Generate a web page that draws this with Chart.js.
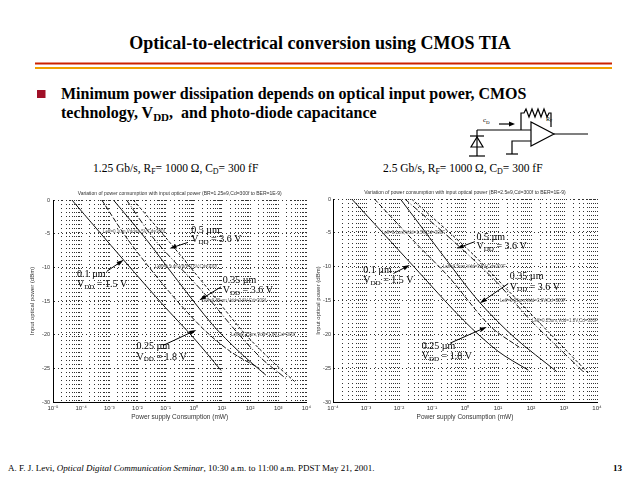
<!DOCTYPE html>
<html>
<head>
<meta charset="utf-8">
<script src="https://cdn.jsdelivr.net/npm/chart.js@4.4.0/dist/chart.umd.min.js"></script>
<style>
  body { margin: 0; width: 640px; height: 480px; overflow: hidden; position: relative; background: #fff;
         font-family: "Liberation Serif", "Times New Roman", serif; color: #000; }
  .abs { position: absolute; white-space: nowrap; }
  #title { left: 0; width: 640px; top: 34px; text-align: center; font-weight: bold; font-size: 18px; line-height: 18px; }
  #bullet { left: 61px; top: 84px; font-weight: bold; font-size: 16px; line-height: 19px; }
  #bullet sub { font-size: 11px; vertical-align: -3px; line-height: 0; }
  .sub { font-size: 11.5px; top: 162px; }
  .sub sub { font-size: 8px; vertical-align: -2px; line-height: 0; }
  #footer { left: 8px; top: 463px; font-size: 9px; }
  #page { right: 18px; top: 463px; font-size: 9px; font-weight: bold; }
  canvas { position: absolute; }
  svg { position: absolute; left: 0; top: 0; }
</style>
</head>
<body>
<svg width="640" height="480">
  <line x1="35" y1="63.5" x2="612" y2="63.5" stroke="#cc2200" stroke-width="2"/>
  <line x1="35" y1="68" x2="612" y2="68" stroke="#f0a000" stroke-width="2"/>
  <rect x="37" y="90" width="8.5" height="8" fill="#a01028"/>
  <!-- TIA sketch -->
  <g stroke="#000" stroke-width="1.2" fill="none">
    <line x1="477" y1="130" x2="477" y2="156"/>
    <line x1="470" y1="136" x2="484" y2="136"/>
    <polygon points="477,137 471,147 483,147"/>
    <line x1="469" y1="156" x2="485" y2="156"/>
    <polyline points="477,130 531,130"/>
    <polyline points="521,130 521,113 524,113 526,109 529,117 532,109 535,117 538,109 541,117 544,109 547,117 549,113 551,113 551,127"/>
    <polygon points="531,122 531,146 554,134"/>
    <line x1="554" y1="134" x2="588" y2="134"/>
    <polyline points="531,141 512,141 512,154"/>
    <line x1="506" y1="154" x2="518" y2="154"/>
    <line x1="499" y1="124" x2="510" y2="124"/>
  </g>
  <polygon points="515,124 509,121.5 509,126.5" fill="#000"/>
  <text x="483" y="122" font-size="7" font-family="Liberation Serif">c<tspan font-size="5" dy="1.5">D</tspan></text>
  <text x="546" y="121" font-size="6" font-family="Liberation Serif">R<tspan font-size="4" dy="1">F</tspan></text>
</svg>

<div id="title" class="abs">Optical-to-electrical conversion using CMOS TIA</div>
<div id="bullet" class="abs">Minimum power dissipation depends on optical input power, CMOS<br>technology, V<sub>DD</sub>,&nbsp; and photo-diode capacitance</div>
<div class="abs sub" style="left:93px">1.25 Gb/s, R<sub>F</sub>= 1000 &Omega;, C<sub>D</sub>= 300 fF</div>
<div class="abs sub" style="left:383px">2.5 Gb/s, R<sub>F</sub>= 1000 &Omega;, C<sub>D</sub>= 300 fF</div>
<div id="footer" class="abs">A. F. J. Levi, <i>Optical Digital Communication Seminar</i>, 10:30 a.m. to 11:00 a.m. PDST May 21, 2001.</div>
<div id="page" class="abs">13</div>

<canvas id="leftChart" width="285" height="235" style="left:29px;top:186px"></canvas>
<canvas id="rightChart" width="290" height="235" style="left:315px;top:186px"></canvas>

<script>
// ---- axis ticks ----
var leftDecades = [-5, -4, -3, -2, -1, 0, 1, 2, 3, 4];
var rightDecades = [-4, -3, -2, -1, 0, 1, 2, 3, 4];
var opticalTicks = [0, -5, -10, -15, -20, -25, -30];

// ---- 1.25 Gb/s : power supply consumption (mW) vs input optical power (dBm) ----
var left01Power = [4.7e-5, 3.2e-3, 0.1, 1, 9.3];
var left01Optical = [0, -8.9, -16, -20.5, -25.3];
var left025Power = [5.4e-4, 4.6e-3, 0.1, 2.0, 20, 214];
var left025Optical = [0, -5.9, -13, -19, -22.5, -25];
var leftMidPower = [1.4e-3, 0.021, 0.27, 4.6, 40, 363];
var leftMidOptical = [0, -5.9, -12, -18.5, -22.5, -26];
var left035Power = [4.1e-3, 0.041, 2.4, 32, 250, 1860];
var left035Optical = [0, -5.9, -13.9, -19.5, -23.5, -26.5];
var left05Power = [7.1e-3, 0.117, 4.6, 63, 630, 4170];
var left05Optical = [0, -5.9, -14, -19.8, -24, -27.1];

// ---- 2.5 Gb/s ----
var right01Power = [3.7e-4, 0.027, 0.89, 10, 83];
var right01Optical = [0, -9.9, -17.9, -22.5, -25.3];
var right025Power = [1.8e-3, 0.032, 0.32, 5.8, 47];
var right025Optical = [0, -6.5, -11.5, -18.8, -22];
var right035Power = [0.011, 0.16, 2.8, 32, 600];
var right035Optical = [0, -7.5, -15.3, -20.5, -25.5];
var right05Power = [0.015, 0.63, 10, 100, 3800];
var right05Optical = [0, -6.9, -12.5, -18, -25.5];
var rightMidPower = [0.024, 1.26, 20, 250, 5600];
var rightMidOptical = [0, -7.5, -13.5, -19, -25.8];

var lineDashes = [[], [5, 2], [], [6, 2, 1, 2], [3, 2]];

function zip(xs, ys) {
    var pts = [];
    for (let i = 0; i < xs.length; i++) pts.push({x: xs[i], y: ys[i]});
    return pts;
}

var supDigits = {'-': '\u207B', '0': '\u2070', '1': '\u00B9', '2': '\u00B2', '3': '\u00B3', '4': '\u2074', '5': '\u2075', '6': '\u2076', '7': '\u2077', '8': '\u2078', '9': '\u2079'};
function powLabel(k) {
    return '10' + String(k).split('').map(c => supDigits[c]).join('');
}

function logTicks(decades) {
    var ticks = [];
    decades.forEach((k, i) => {
        ticks.push({value: Math.pow(10, k), lab: powLabel(k)});
        if (i < decades.length - 1) {
            for (let n = 2; n <= 9; n++) ticks.push({value: n * Math.pow(10, k), lab: ''});
        }
    });
    return ticks;
}

function drawRich(ctx, segs, x, y) {
    var cx = x;
    segs.forEach(s => {
        ctx.font = s[1] ? '7px "Liberation Serif"' : '10px "Liberation Serif"';
        ctx.fillText(s[0], cx, y + (s[1] ? 2.5 : 0));
        cx += ctx.measureText(s[0]).width;
    });
}

var notesPlugin = {
    id: 'notes',
    afterDatasetsDraw(chart, args, opts) {
        const {ctx, chartArea} = chart;
        const xs = chart.scales.x, ys = chart.scales.y;
        ctx.save();
        ctx.fillStyle = '#333';
        ctx.font = '5px "Liberation Sans"';
        ctx.textAlign = 'center';
        ctx.textBaseline = 'middle';
        ctx.fillText(opts.title, (chartArea.left + chartArea.right) / 2, chartArea.top - 6);
        ctx.textAlign = 'left';
        ctx.fillStyle = '#555';
        ctx.font = '4.5px "Liberation Sans"';
        opts.tags.forEach(t => ctx.fillText(t.text, xs.getPixelForValue(t.x), ys.getPixelForValue(t.y)));

        ctx.fillStyle = '#000';
        ctx.strokeStyle = '#000';
        ctx.lineWidth = 1;
        opts.callouts.forEach(c => {
            const tx = xs.getPixelForValue(c.x);
            drawRich(ctx, [[c.size + ' \u00B5m', 0]], tx, ys.getPixelForValue(c.y1));
            drawRich(ctx, [['V', 0], ['DD', 1], [' = ' + c.vdd + ' V', 0]], tx, ys.getPixelForValue(c.y2));
            const x1 = xs.getPixelForValue(c.from[0]), y1 = ys.getPixelForValue(c.from[1]);
            const x2 = xs.getPixelForValue(c.to[0]), y2 = ys.getPixelForValue(c.to[1]);
            const a = Math.atan2(y2 - y1, x2 - x1);
            ctx.beginPath();
            ctx.moveTo(x1, y1);
            ctx.lineTo(x2 - 5 * Math.cos(a), y2 - 5 * Math.sin(a));
            ctx.stroke();
            ctx.beginPath();
            ctx.moveTo(x2, y2);
            ctx.lineTo(x2 - 7 * Math.cos(a) + 2.2 * Math.sin(a), y2 - 7 * Math.sin(a) - 2.2 * Math.cos(a));
            ctx.lineTo(x2 - 7 * Math.cos(a) - 2.2 * Math.sin(a), y2 - 7 * Math.sin(a) + 2.2 * Math.cos(a));
            ctx.closePath();
            ctx.fill();
        });
        ctx.restore();
    }
};

function createConfig(series, decades, yWidth, yPad, padding, notes) {
    var ticks = logTicks(decades);
    return {
        type: 'scatter',
        data: {
            datasets: series.map((s, i) => ({
                label: s[0],
                data: zip(s[1], s[2]),
                showLine: true,
                borderColor: '#111',
                borderWidth: 1,
                borderDash: lineDashes[i],
                pointRadius: 0,
                tension: 0.3
            }))
        },
        options: {
            responsive: false,
            animation: false,
            layout: {padding: padding},
            plugins: {legend: {display: false}, tooltip: {enabled: false}, notes: notes},
            scales: {
                x: {
                    type: 'logarithmic',
                    min: Math.pow(10, decades[0]),
                    max: Math.pow(10, decades[decades.length - 1]),
                    afterBuildTicks: (scale) => { scale.ticks = ticks.slice(); },
                    afterFit: (scale) => { scale.height = 19; },
                    grid: {color: '#333', lineWidth: 1, drawTicks: false},
                    border: {display: true, color: '#000', width: 1, dash: [1, 3]},
                    ticks: {
                        autoSkip: false, maxRotation: 0, padding: 3, color: '#333',
                        font: {family: 'Liberation Sans', size: 6},
                        callback: (v, i, t) => t[i].lab
                    },
                    title: {display: true, text: 'Power supply Consumption (mW)', color: '#333', padding: 0,
                            font: {family: 'Liberation Sans', size: 6.5}}
                },
                y: {
                    min: -30, max: 0,
                    afterBuildTicks: (scale) => { scale.ticks = opticalTicks.map(v => ({value: v})); },
                    afterFit: (scale) => { scale.width = yWidth; },
                    grid: {color: '#333', lineWidth: 1, drawTicks: false},
                    border: {display: true, color: '#000', width: 1, dash: [1, 3]},
                    ticks: {padding: yPad, color: '#333', font: {family: 'Liberation Sans', size: 5.5}},
                    title: {display: true, text: 'Input optical power (dBm)', color: '#333', padding: 0,
                            font: {family: 'Liberation Sans', size: 6}}
                }
            }
        },
        plugins: [notesPlugin]
    };
}

var leftSeries = [
    ['Leff=0.1um', left01Power, left01Optical],
    ['Leff=0.25um', left025Power, left025Optical],
    ['Leff=0.25um b', leftMidPower, leftMidOptical],
    ['Leff=0.35um', left035Power, left035Optical],
    ['Leff=0.5um', left05Power, left05Optical]
];
var rightSeries = [
    ['Leff=0.1um', right01Power, right01Optical],
    ['Leff=0.25um', right025Power, right025Optical],
    ['Leff=0.35um', right035Power, right035Optical],
    ['Leff=0.5um', right05Power, right05Optical],
    ['Leff=0.5um b', rightMidPower, rightMidOptical]
];

var leftNotes = {
    title: 'Variation of power consumption with input optical power (BR=1.25e9,Cd=300f to BER=1E-9)',
    tags: [
        {text: 'Leff=0.1um,Vdd=1.5V,Cd=300f', x: 6.0e-4, y: -4.75},
        {text: 'Leff=0.5um,Vdd=3.6V,Cd=300f', x: 0.042, y: -9.95},
        {text: 'Leff=0.35um,Vdd=3.6V,Cd=300f', x: 1.9, y: -14.96},
        {text: 'Leff=0.25um,Vdd=1.8V,Cd=300f', x: 21, y: -20.06}
    ],
    callouts: [
        {size: '0.1', vdd: '1.5', x: 7.1e-5, y1: -11.1, y2: -12.6, from: [8.1e-4, -10.6], to: [3.2e-3, -8.9]},
        {size: '0.5', vdd: '3.6', x: 0.81, y1: -4.5, y2: -5.9, from: [0.62, -6.3], to: [0.138, -7.2]},
        {size: '0.35', vdd: '3.6', x: 10.7, y1: -11.9, y2: -13.4, from: [9.3, -12.9], to: [1.58, -14.9]},
        {size: '0.25', vdd: '1.8', x: 9.3e-3, y1: -21.8, y2: -23.3, from: [0.081, -21.6], to: [1.23, -19.3]}
    ]
};
var rightNotes = {
    title: 'Variation of power consumption with input optical power (BR=2.5e9,Cd=300f to BER=1E-9)',
    tags: [
        {text: 'Leff=0.1um,Vdd=1.5V,Cd=300F', x: 3.0e-3, y: -4.98},
        {text: 'Leff=0.5um,Vdd=3.6V,Cd=300F', x: 0.21, y: -10.04},
        {text: 'Leff=0.35um,Vdd=3.6V,Cd=300F', x: 11.5, y: -15.02},
        {text: 'Leff=0.25um,Vdd=1.8V,Cd=300F', x: 107, y: -18.0}
    ],
    callouts: [
        {size: '0.5', vdd: '3.6', x: 2.24, y1: -5.6, y2: -7.0, from: [2.0, -6.3], to: [0.56, -7.3]},
        {size: '0.1', vdd: '1.5', x: 8.3e-4, y1: -10.5, y2: -12.0, from: [6.8e-3, -11.0], to: [0.0214, -9.75]},
        {size: '0.35', vdd: '3.6', x: 22.9, y1: -11.5, y2: -13.0, from: [20.4, -12.5], to: [2.82, -15.4]},
        {size: '0.25', vdd: '1.8', x: 0.049, y1: -21.8, y2: -23.3, from: [0.355, -21.3], to: [4.57, -18.9]}
    ]
};

var leftChart = new Chart(document.getElementById('leftChart').getContext('2d'),
    createConfig(leftSeries, leftDecades, 24, 3, {top: 14, right: 7, left: 0, bottom: 0}, leftNotes));
var rightChart = new Chart(document.getElementById('rightChart').getContext('2d'),
    createConfig(rightSeries, rightDecades, 18, 2, {top: 13, right: 8, left: 0, bottom: 0}, rightNotes));
</script>
</body>
</html>
